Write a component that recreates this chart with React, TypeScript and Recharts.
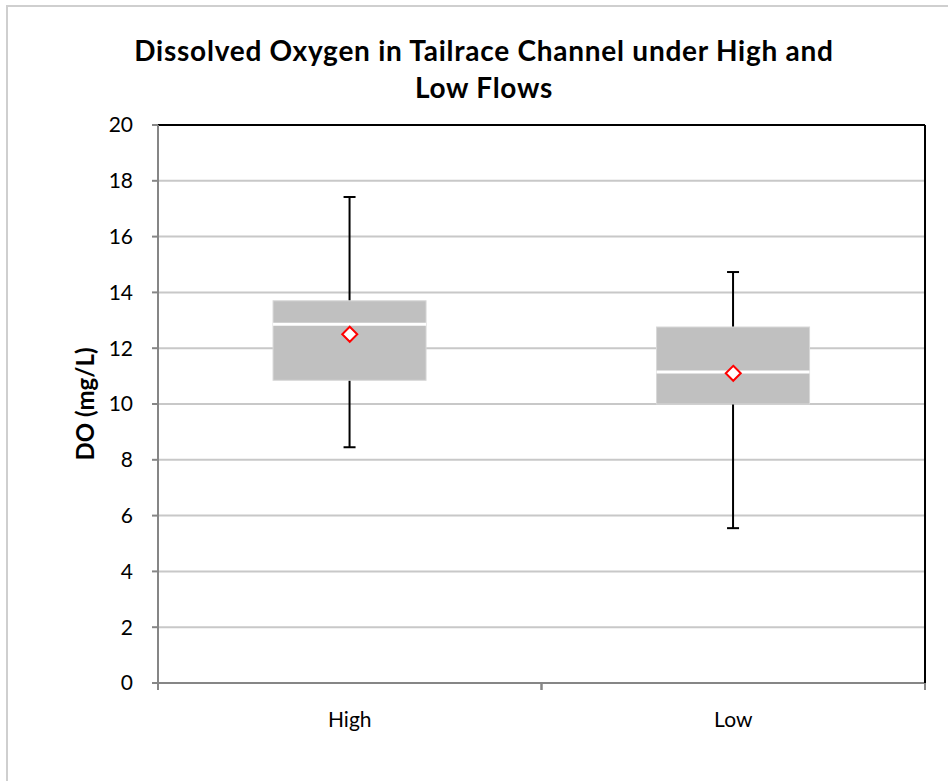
import React from 'react';
import { ComposedChart, Bar, Scatter, XAxis, YAxis, CartesianGrid, ReferenceLine } from 'recharts';

const categories = ['High', 'Low'];
const minValues = [8.45, 5.55];
const q1Values = [10.85, 10.0];
const medianValues = [12.86, 11.15];
const q3Values = [13.7, 12.76];
const maxValues = [17.42, 14.73];
const meanValues = [12.5, 11.1];
const yTicks = [0, 2, 4, 6, 8, 10, 12, 14, 16, 18, 20];

const data = categories.map((name, i) => ({
  name,
  min: minValues[i],
  q1: q1Values[i],
  median: medianValues[i],
  q3: q3Values[i],
  max: maxValues[i],
  range: [minValues[i], maxValues[i]],
  mean: meanValues[i],
}));

const FONT = 'Lato, "Open Sans", sans-serif';
const X_TICK_LEN = 7;
const PLOT_HEIGHT = 558;

// whisker + box + median, drawn inside the [min, max] range bar
const BoxShape = (props: any) => {
  const { x, y, width, height, payload } = props;
  const top = Math.min(y, y + height);
  const h = Math.abs(height);
  const span = payload.max - payload.min;
  const py = (v: number) => top + ((payload.max - v) / span) * h;
  const cx = x + width / 2;
  const cap = 6;
  return (
    <g>
      <line x1={cx} x2={cx} y1={py(payload.max)} y2={py(payload.min)} stroke="#000" strokeWidth={2} />
      <line x1={cx - cap} x2={cx + cap} y1={py(payload.max)} y2={py(payload.max)} stroke="#000" strokeWidth={2} />
      <line x1={cx - cap} x2={cx + cap} y1={py(payload.min)} y2={py(payload.min)} stroke="#000" strokeWidth={2} />
      <rect
        x={x}
        y={py(payload.q3)}
        width={width}
        height={py(payload.q1) - py(payload.q3)}
        fill="#c0c0c0"
        stroke="#d8d8d8"
        strokeWidth={1}
      />
      <line x1={x} x2={x + width} y1={py(payload.median)} y2={py(payload.median)} stroke="#fff" strokeWidth={3} />
    </g>
  );
};

const Diamond = (props: any) => {
  const { cx, cy } = props;
  const r = 7.5;
  return (
    <path
      d={`M${cx},${cy - r}L${cx + r},${cy}L${cx},${cy + r}L${cx - r},${cy}Z`}
      fill="#fff"
      stroke="#ff0000"
      strokeWidth={2}
    />
  );
};

const XTick = (props: any) => {
  const { x, y, payload } = props;
  const off = payload.offset || 0;
  const axisY = y - X_TICK_LEN;
  return (
    <g>
      <line x1={x - off} x2={x - off} y1={axisY} y2={axisY + X_TICK_LEN} stroke="#868686" strokeWidth={2} />
      <line x1={x + off} x2={x + off} y1={axisY} y2={axisY + X_TICK_LEN} stroke="#868686" strokeWidth={2} />
      {/* right edge of the plot frame */}
      {payload.index === categories.length - 1 && (
        <line x1={x + off} x2={x + off} y1={axisY} y2={axisY - PLOT_HEIGHT} stroke="#000" strokeWidth={2} />
      )}
      <text x={x} y={y + 37} textAnchor="middle" fontSize={21} fontFamily={FONT} fill="#000">
        {payload.value}
      </text>
    </g>
  );
};

const YLabel = (props: any) => {
  const { viewBox } = props;
  const cx = viewBox.x - 14;
  const cy = viewBox.y + viewBox.height / 2;
  return (
    <text
      x={cx}
      y={cy}
      transform={`rotate(-90, ${cx}, ${cy})`}
      textAnchor="middle"
      dominantBaseline="central"
      fontSize={24}
      fontWeight="bold"
      fontFamily={FONT}
      fill="#000"
    >
      DO (mg/L)
    </text>
  );
};

export default function App() {
  return (
    <div style={{ position: 'absolute', left: 0, top: 0, width: 948, height: 781, overflow: 'hidden', background: '#fff' }}>
      <div
        style={{
          position: 'absolute',
          left: 6,
          top: 5,
          width: 1000,
          height: 900,
          borderTop: '2px solid #cfcfcf',
          borderLeft: '2px solid #cfcfcf',
        }}
      />
      <div style={{ position: 'absolute', left: 0, top: 0 }}>
        <ComposedChart
          width={948}
          height={781}
          data={data}
          barCategoryGap="30%"
          margin={{ top: 125, right: 23, bottom: 38, left: 98 }}
        >
          <CartesianGrid vertical={false} stroke="#c8c8c8" strokeWidth={2} />
          <ReferenceLine y={20} stroke="#000" strokeWidth={2} />
          <XAxis
            dataKey="name"
            height={60}
            axisLine={{ stroke: '#868686', strokeWidth: 2 }}
            tickLine={false}
            tickSize={X_TICK_LEN}
            tickMargin={0}
            tick={<XTick />}
            interval={0}
          />
          <YAxis
            domain={[0, 20]}
            ticks={yTicks}
            width={60}
            axisLine={{ stroke: '#868686', strokeWidth: 2 }}
            tickLine={{ stroke: '#868686', strokeWidth: 2 }}
            tickSize={6}
            tickMargin={19}
            tick={{ fontSize: 21, fontFamily: FONT, fill: '#000' }}
            label={<YLabel />}
          />
          <Bar dataKey="range" shape={<BoxShape />} isAnimationActive={false} />
          <Scatter dataKey="mean" shape={<Diamond />} isAnimationActive={false} />
        </ComposedChart>
      </div>
      <div
        style={{
          position: 'absolute',
          left: 0,
          top: 32,
          width: 968,
          textAlign: 'center',
          fontFamily: FONT,
          fontWeight: 'bold',
          fontSize: 28,
          letterSpacing: 0.75,
          lineHeight: '37px',
          color: '#000',
        }}
      >
        Dissolved Oxygen in Tailrace Channel under High and
        <br />
        Low Flows
      </div>
    </div>
  );
}
